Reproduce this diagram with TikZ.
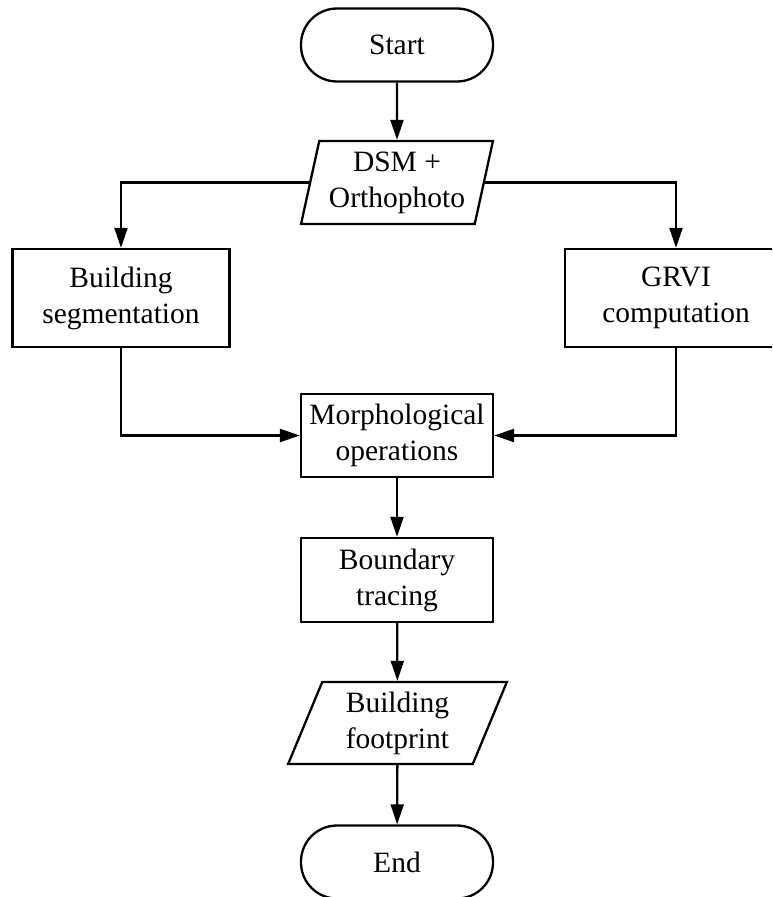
\documentclass[tikz,border=0pt]{standalone}
\usepackage{fontspec}
\setmainfont{Liberation Serif}
\usetikzlibrary{shapes.geometric,arrows.meta}
\tikzset{>={Triangle[length=20pt,width=13pt]}}
\tikzset{
  base/.style = {draw, line width=2.3pt, align=center, inner sep=2pt,
    font=\fontsize{29.5}{36}\selectfont},
  terminal/.style = {base, rectangle, rounded corners=36pt,
    minimum width=192pt, minimum height=73pt},
  process/.style = {base, rectangle, minimum width=192pt, minimum height=83pt},
  inout/.style = {base, trapezium, trapezium stretches=true,
    minimum height=83pt},
  flow/.style = {->, line width=2.3pt}
}

\begin{document}
\begin{tikzpicture}[x=1pt,y=-1pt]
  \useasboundingbox (0,0) rectangle (772,897);
  \clip (0,0) rectangle (772,897);
  % terminals
  \node[terminal] (start) at (397,45) {Start};
  \node[terminal] (end) at (397,862) {End};
  % data
  \node[inout, minimum width=192pt, trapezium left angle=76,
    trapezium right angle=104] (dsm) at (397,182.5) {DSM +\\Orthophoto};
  \node[inout, minimum width=219pt, minimum height=82pt,
    trapezium left angle=70, trapezium right angle=110] (foot) at (397.5,723)
    {Building\\footprint};
  % processing steps
  \node[process, minimum width=217pt, minimum height=98pt] (bseg) at (121,298)
    {Building\\segmentation};
  \node[process, minimum width=222pt, minimum height=98pt] (grvi) at (676,298)
    {GRVI\\computation};
  \node[process] (morph) at (397,435.5) {Morphological\\operations};
  \node[process, minimum height=84pt] (trace) at (397,580) {Boundary\\tracing};
  % arrows
  \draw[flow] (start) -- (dsm);
  \draw[flow] (dsm.west) -| (bseg.north);
  \draw[flow] (dsm.east) -| (grvi.north);
  \draw[flow] (bseg.south) |- (morph.west);
  \draw[flow] (grvi.south) |- (morph.east);
  \draw[flow] (morph) -- (trace);
  \draw[flow] (trace) -- (foot);
  \draw[flow] (foot) -- (end);
\end{tikzpicture}
\end{document}
